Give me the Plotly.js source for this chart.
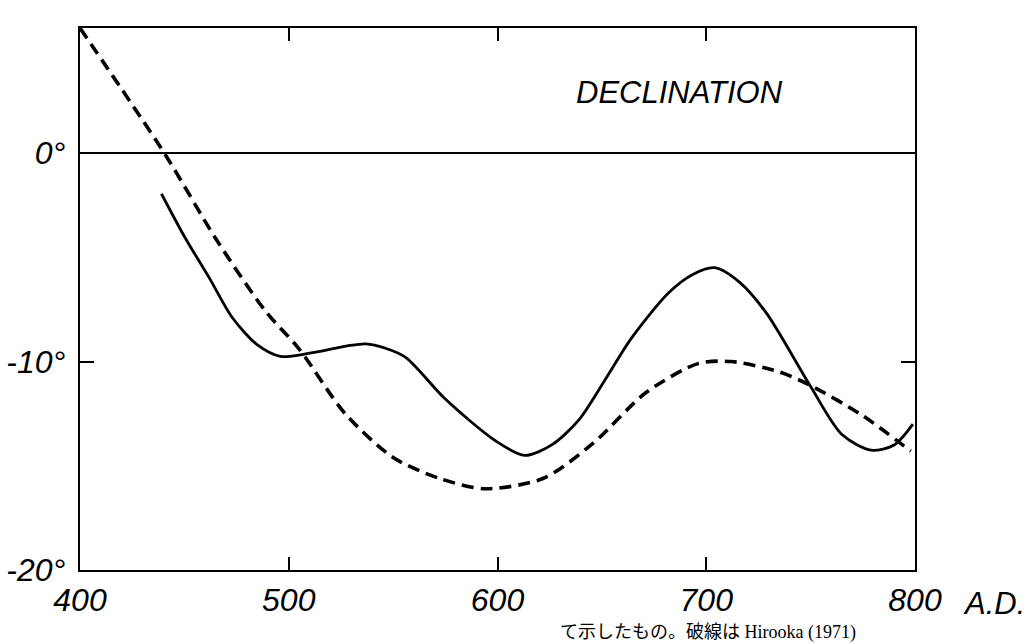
<!DOCTYPE html>
<html>
<head>
<meta charset="utf-8">
<script src="https://cdn.plot.ly/plotly-3.0.1.min.js"></script>
<style>html,body{margin:0;padding:0;background:#fff;}#chart{width:1033px;height:644px;}</style>
</head>
<body>
<div id="chart"></div>
<script>
// Solid curve (archaeomagnetic declination)
const solidYears = [439, 450, 462, 473, 485, 496, 510, 528, 537, 546, 556, 575, 599, 613, 626, 639, 652, 664, 682, 694, 704, 716, 729, 750, 765, 779, 790, 799];
const solidDecl  = [-1.95, -4.0, -6.0, -7.9, -9.2, -9.75, -9.6, -9.25, -9.15, -9.35, -9.8, -11.8, -13.8, -14.5, -14.0, -12.8, -10.8, -8.9, -6.7, -5.8, -5.5, -6.2, -7.7, -11.2, -13.5, -14.25, -14.0, -13.0];

// Dashed curve (Hirooka 1971)
const dashYears = [400, 441, 465, 489, 505, 527, 550, 572, 594, 622, 646, 671, 696, 712, 735, 750, 775, 798];
const dashDecl  = [6.0, -0.1, -4.1, -7.6, -9.4, -12.5, -14.6, -15.6, -16.1, -15.6, -13.9, -11.5, -10.1, -10.0, -10.5, -11.15, -12.6, -14.3];

const xTickVals = [400, 500, 600, 700, 800];
const xTickText = ['400', '500', '600', '700', '800'];
const yTickVals = [0, -10, -20];
const yTickText = ['0°', '-10°', '-20°'];

const panelLabel = 'DECLINATION';
const unitLabel = 'A.D.';
const captionText = 'て示したもの。破線は Hirooka (1971)';

const tickFont = {family: 'Liberation Sans, Arial, sans-serif', size: 32, style: 'italic', color: '#000'};

const traces = [
  {x: solidYears, y: solidDecl, type: 'scatter', mode: 'lines',
   line: {color: '#000', width: 2.8, shape: 'spline', smoothing: 0.8}, hoverinfo: 'skip'},
  {x: dashYears, y: dashDecl, type: 'scatter', mode: 'lines',
   line: {color: '#000', width: 3.6, dash: '12px,7px', shape: 'spline', smoothing: 0.8}, hoverinfo: 'skip'}
];

const layout = {
  width: 1033, height: 644,
  margin: {l: 80, r: 118, t: 28, b: 74},
  paper_bgcolor: '#fff', plot_bgcolor: '#fff',
  showlegend: false,
  xaxis: {
    range: [400, 800], tickvals: xTickVals, ticktext: xTickText,
    ticks: 'inside', ticklen: 13, tickwidth: 2, tickcolor: '#000',
    showline: true, linewidth: 2.2, linecolor: '#000', mirror: 'ticks',
    showgrid: false, zeroline: false, tickfont: tickFont, ticklabelstandoff: 0
  },
  yaxis: {
    range: [-20, 6], tickvals: yTickVals, ticktext: yTickText,
    ticks: 'inside', ticklen: 14, tickwidth: 2, tickcolor: '#000',
    showline: true, linewidth: 2.2, linecolor: '#000', mirror: 'ticks',
    showgrid: false, zeroline: true, zerolinewidth: 2.2, zerolinecolor: '#000',
    tickfont: tickFont, ticklabelstandoff: 6
  },
  annotations: [
    {x: 687, y: 2.9, xref: 'x', yref: 'y', text: panelLabel, showarrow: false,
     font: {family: 'Liberation Sans, Arial, sans-serif', size: 31, style: 'italic', color: '#000'}},
    {x: 1.095, y: -0.062, xref: 'paper', yref: 'paper', text: unitLabel, showarrow: false,
     xanchor: 'center', yanchor: 'middle',
     font: {family: 'Liberation Sans, Arial, sans-serif', size: 31, style: 'italic', color: '#000'}},
    {x: 0.9305, y: -0.1365, xref: 'paper', yref: 'paper', text: captionText, showarrow: false,
     xanchor: 'right', yanchor: 'bottom', borderpad: 0,
     font: {family: 'Liberation Serif, Noto Sans CJK JP, serif', size: 18, color: '#000'}}
  ]
};

Plotly.newPlot('chart', traces, layout, {staticPlot: true, displayModeBar: false});
</script>
</body>
</html>
